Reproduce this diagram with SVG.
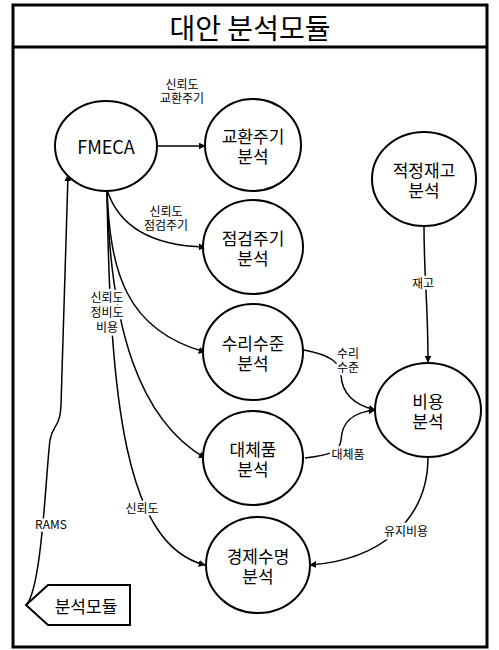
<svg xmlns="http://www.w3.org/2000/svg" width="499" height="650" viewBox="0 0 499 650">
<defs>
<marker id="arr" viewBox="0 0 10 10" refX="9" refY="5" markerWidth="7" markerHeight="7" markerUnits="userSpaceOnUse" orient="auto"><path d="M0,0 L10,5 L0,10 z" fill="#000"/></marker>
<style>
.n{fill:#fff;stroke:#000;stroke-width:2}
.t{font-family:"Noto Sans CJK KR","Noto Sans",sans-serif;font-size:17px;fill:#000;text-anchor:middle;dominant-baseline:central}
.e{fill:none;stroke:#000;stroke-width:1.5}
.l{font-family:"Noto Sans CJK KR","Noto Sans",sans-serif;font-size:12px;fill:#000;text-anchor:middle;dominant-baseline:central;paint-order:stroke;stroke:#fff;stroke-width:5px;stroke-linejoin:round}
</style>
</defs>
<rect x="0" y="0" width="499" height="650" fill="#fff"/>
<g id="frame">
<rect x="13" y="5" width="474" height="642" fill="#fff" stroke="#000" stroke-width="3"/>
<line x1="13" y1="47" x2="487" y2="47" stroke="#000" stroke-width="3"/>
<text x="250" y="27" class="t" style="font-size:28px">대안 분석모듈</text>
</g>
<g id="connectors">
<path class="e" d="M157,146 L205,146" marker-end="url(#arr)"/>
<path class="e" d="M107,190 Q125,245 205,247" marker-end="url(#arr)"/>
<path class="e" d="M107,190 C110,270 125,330 205,352" marker-end="url(#arr)"/>
<path class="e" d="M107,190 C110,330 140,420 205,458" marker-end="url(#arr)"/>
<path class="e" d="M107,190 C110,400 125,545 205,565" marker-end="url(#arr)"/>
<path class="e" d="M26,605 C42,590 46,470 50,440 C53,424 60,428 61,405 L68,175" marker-end="url(#arr)"/>
<path class="e" d="M424,226 C424,280 428,300 428,362" marker-end="url(#arr)"/>
<path class="e" d="M304,350 C330,355 340,362 341,375 C342,395 355,405 375,410" marker-end="url(#arr)"/>
<path class="e" d="M305,458 C330,455 340,452 341,440 C342,420 355,412 375,410" marker-end="url(#arr)"/>
<path class="e" d="M428,457 C428,520 380,560 310,565" marker-end="url(#arr)"/>
<text class="l" x="182" y="83">신뢰도<tspan x="182" dy="14">교환주기</tspan></text>
<text class="l" x="166" y="210">신뢰도<tspan x="166" dy="14">점검주기</tspan></text>
<text class="l" x="107" y="296">신뢰도<tspan x="107" dy="15">정비도</tspan><tspan x="107" dy="15">비용</tspan></text>
<text class="l" x="142" y="507">신뢰도</text>
<text class="l" x="51" y="523">RAMS</text>
<text class="l" x="423" y="282">재고</text>
<text class="l" x="348" y="352">수리<tspan x="348" dy="14">수준</tspan></text>
<text class="l" x="348" y="453">대체품</text>
<text class="l" x="406" y="530">유지비용</text>
</g>
<g id="fmeca"><ellipse class="n" cx="106" cy="146" rx="51" ry="45"/><text class="t" x="106" y="146" style="font-size:18px">FMECA</text></g>
<g id="replace-cycle"><ellipse class="n" cx="253" cy="145" rx="48" ry="46"/><text class="t" x="253" y="135">교환주기<tspan x="253" dy="20">분석</tspan></text></g>
<g id="inspect-cycle"><ellipse class="n" cx="253" cy="247" rx="50" ry="47"/><text class="t" x="253" y="237">점검주기<tspan x="253" dy="20">분석</tspan></text></g>
<g id="repair-level"><ellipse class="n" cx="253" cy="352" rx="50" ry="48"/><text class="t" x="253" y="342">수리수준<tspan x="253" dy="20">분석</tspan></text></g>
<g id="substitute"><ellipse class="n" cx="253" cy="458" rx="50" ry="47"/><text class="t" x="253" y="448">대체품<tspan x="253" dy="20">분석</tspan></text></g>
<g id="econ-life"><ellipse class="n" cx="258" cy="565" rx="52" ry="48"/><text class="t" x="258" y="555">경제수명<tspan x="258" dy="20">분석</tspan></text></g>
<g id="inventory"><ellipse class="n" cx="424" cy="179" rx="52" ry="47"/><text class="t" x="424" y="169">적정재고<tspan x="424" dy="20">분석</tspan></text></g>
<g id="cost"><ellipse class="n" cx="428" cy="410" rx="53" ry="47"/><text class="t" x="428" y="400">비용<tspan x="428" dy="20">분석</tspan></text></g>
<g id="module"><polygon class="n" points="26,605 48,585 130,585 130,625 48,625"/><text class="t" x="86" y="605">분석모듈</text></g>
</svg>
